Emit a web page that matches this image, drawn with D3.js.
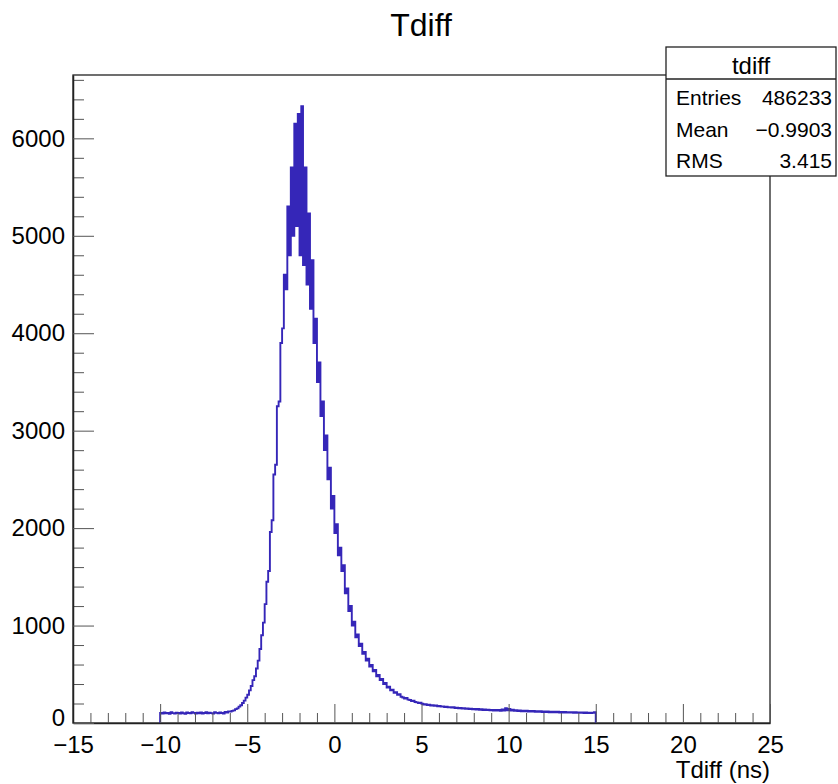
<!DOCTYPE html>
<html lang="en">

<head>
    <meta charset="UTF-8">
    <title>Tdiff</title>
    <style>
        html, body {
            margin: 0;
            padding: 0;
            background: #fff;
        }

        text {
            font-family: "Liberation Sans", Arial, Helvetica, sans-serif;
            fill: #000;
        }
    </style>
</head>

<body>
    <div id="wrapper"></div>

    <script src="https://d3js.org/d3.v7.min.js"></script>
    <script>
        // 直方圖範圍 -10 ~ 15 ns, bin 寬 0.1
        const binStart = -10
        const binWidth = 0.1
        const counts = [
            // -10.0 ~ -6.1
            102, 96, 108, 99, 104, 95, 110, 101, 98, 106, 103, 97, 109, 100, 95, 107, 102, 99, 111, 104,
            98, 105, 100, 108, 96, 103, 110, 99, 106, 101, 97, 112, 104, 100, 109, 103, 98, 113, 106, 118,
            // -6.0 ~ -4.1
            118, 124, 130, 142, 150, 168, 182, 205, 230, 260, 290, 335, 380, 440, 480, 560, 640, 760, 900, 1030,
            // -4.0 ~ -2.1
            1220, 1450, 1560, 1960, 2080, 2550, 2650, 3250, 3300, 3900, 4050, 4600, 4450, 5300, 4800, 5700, 5000, 6150, 5100, 6250,
            // -2.0 ~ -0.1
            4800, 6330, 4700, 5700, 4500, 5230, 4250, 4750, 3900, 4150, 3500, 3700, 3150, 3300, 2800, 2950, 2500, 2620, 2200, 2330,
            // 0.0 ~ 1.9
            1950, 2040, 1720, 1800, 1560, 1620, 1330, 1380, 1150, 1200, 1000, 1040, 880, 910, 790, 815, 710, 730, 640, 660,
            // 2.0 ~ 3.9
            580, 595, 530, 545, 480, 492, 440, 452, 400, 410, 365, 372, 335, 342, 310, 316, 290, 296, 270, 262,
            // 4.0 ~ 5.9
            252, 258, 240, 236, 225, 230, 216, 212, 205, 209, 198, 190, 194, 185, 188, 180, 183, 176, 179, 172,
            // 6.0 ~ 7.9
            175, 168, 171, 164, 167, 160, 163, 158, 161, 154, 157, 150, 155, 148, 152, 146, 150, 143, 147, 141,
            // 8.0 ~ 9.9
            145, 139, 143, 136, 141, 134, 139, 132, 137, 130, 135, 128, 134, 127, 133, 126, 140, 129, 152, 131,
            // 10.0 ~ 11.9
            145, 128, 136, 124, 131, 122, 129, 120, 127, 119, 126, 118, 124, 117, 123, 115, 121, 114, 120, 113,
            // 12.0 ~ 13.9
            119, 112, 118, 111, 117, 110, 116, 109, 115, 108, 114, 108, 113, 107, 112, 106, 111, 105, 110, 104,
            // 14.0 ~ 14.9
            109, 104, 108, 103, 107, 102, 106, 101, 105, 112
        ]

        // 軸的刻度
        const xMajorTicks = [-15, -10, -5, 0, 5, 10, 15, 20, 25]
        const yMajorTicks = [0, 1000, 2000, 3000, 4000, 5000, 6000]

        // 統計框
        const statsTitle = 'tdiff'
        const statsRows = [
            ['Entries', '486233'],
            ['Mean', '\u22120.9903'],
            ['RMS', '3.415']
        ]

        const width = 838,
            height = 784
        const frame = { left: 73, right: 770, top: 75, bottom: 723 }

        const svg = d3.select('#wrapper').append('svg')
            .attr('width', width)
            .attr('height', height)

        const xScale = d3.scaleLinear()
            .domain([-15, 25])
            .range([frame.left, frame.right])

        const yScale = d3.scaleLinear()
            .domain([0, 6650])
            .range([frame.bottom, frame.top])

        // 標題
        svg.append('text')
            .attr('x', 421)
            .attr('y', 36)
            .attr('text-anchor', 'middle')
            .style('font-size', '32px')
            .text('Tdiff')

        // 外框
        svg.append('rect')
            .attr('x', frame.left)
            .attr('y', frame.top)
            .attr('width', frame.right - frame.left)
            .attr('height', frame.bottom - frame.top)
            .attr('fill', 'none')
            .attr('stroke', '#222')
            .attr('stroke-width', 1.3)

        // 直方圖階梯線
        const bins = counts.map((c, i) => ({ x0: binStart + i * binWidth, x1: binStart + (i + 1) * binWidth, c }))
        const pts = [[bins[0].x0, 0]]
        bins.forEach(b => {
            pts.push([b.x0, b.c])
            pts.push([b.x1, b.c])
        })
        pts.push([bins[bins.length - 1].x1, 0])

        const histLine = d3.line()
            .x(d => xScale(d[0]))
            .y(d => yScale(d[1]))

        svg.append('path')
            .attr('d', histLine(pts))
            .attr('fill', 'none')
            .attr('stroke', '#3526b8')
            .attr('stroke-width', 1.9)
            .attr('stroke-linejoin', 'miter')

        // X軸 (刻度朝內)
        const xMinor = d3.range(-15, 26, 1).filter(v => v % 5 !== 0)
        svg.append('g')
            .attr('transform', `translate(0,${frame.bottom})`)
            .call(d3.axisBottom(xScale).tickValues(xMinor).tickSizeInner(-10).tickSizeOuter(0).tickFormat(''))
            .call(g => g.select('.domain').remove())
            .call(g => g.selectAll('.tick line').attr('stroke', '#555'))

        const xAxisG = svg.append('g')
            .attr('transform', `translate(0,${frame.bottom})`)
            .call(d3.axisBottom(xScale).tickValues(xMajorTicks).tickSizeInner(-19).tickSizeOuter(0).tickPadding(13))
        xAxisG.select('.domain').attr('stroke', '#222').attr('stroke-width', 1.5)
        xAxisG.selectAll('.tick line').attr('stroke', '#555')
        xAxisG.selectAll('.tick text')
            .style('font-size', '24px')
            .attr('font-family', null)

        // Y軸
        const yMinor = d3.range(0, 6650, 200).filter(v => v % 1000 !== 0)
        svg.append('g')
            .attr('transform', `translate(${frame.left},0)`)
            .call(d3.axisLeft(yScale).tickValues(yMinor).tickSizeInner(-11).tickSizeOuter(0).tickFormat(''))
            .call(g => g.select('.domain').remove())
            .call(g => g.selectAll('.tick line').attr('stroke', '#555'))

        const yAxisG = svg.append('g')
            .attr('transform', `translate(${frame.left},0)`)
            .call(d3.axisLeft(yScale).tickValues(yMajorTicks).tickSizeInner(-21).tickSizeOuter(0).tickPadding(8).tickFormat(d3.format('d')))
        yAxisG.select('.domain').attr('stroke', '#222').attr('stroke-width', 1.5)
        yAxisG.selectAll('.tick line').attr('stroke', '#555')
        yAxisG.selectAll('.tick text')
            .style('font-size', '24px')
            .attr('font-family', null)
        // 0 標籤稍微往上，避免和 -15 重疊
        yAxisG.selectAll('.tick text').filter(d => d === 0).attr('dy', '0.1em')

        // 軸標籤
        svg.append('text')
            .attr('x', frame.right)
            .attr('y', 778)
            .attr('text-anchor', 'end')
            .style('font-size', '24px')
            .text('Tdiff (ns)')

        // 統計框
        const box = { x: 666, y: 47, w: 170, h: 129, sep: 79 }
        const statsG = svg.append('g')
        statsG.append('rect')
            .attr('x', box.x)
            .attr('y', box.y)
            .attr('width', box.w)
            .attr('height', box.h)
            .attr('fill', '#fff')
            .attr('stroke', '#222')
            .attr('stroke-width', 1.3)
        statsG.append('line')
            .attr('x1', box.x)
            .attr('x2', box.x + box.w)
            .attr('y1', box.sep)
            .attr('y2', box.sep)
            .attr('stroke', '#222')
            .attr('stroke-width', 1.3)
        statsG.append('text')
            .attr('x', box.x + box.w / 2)
            .attr('y', 74)
            .attr('text-anchor', 'middle')
            .style('font-size', '24px')
            .text(statsTitle)

        const rowY = [105, 137, 168]
        statsRows.forEach((r, i) => {
            statsG.append('text')
                .attr('x', box.x + 10)
                .attr('y', rowY[i])
                .style('font-size', '21px')
                .text(r[0])
            statsG.append('text')
                .attr('x', box.x + box.w - 4)
                .attr('y', rowY[i])
                .attr('text-anchor', 'end')
                .style('font-size', '21px')
                .text(r[1])
        })
    </script>
</body>

</html>
